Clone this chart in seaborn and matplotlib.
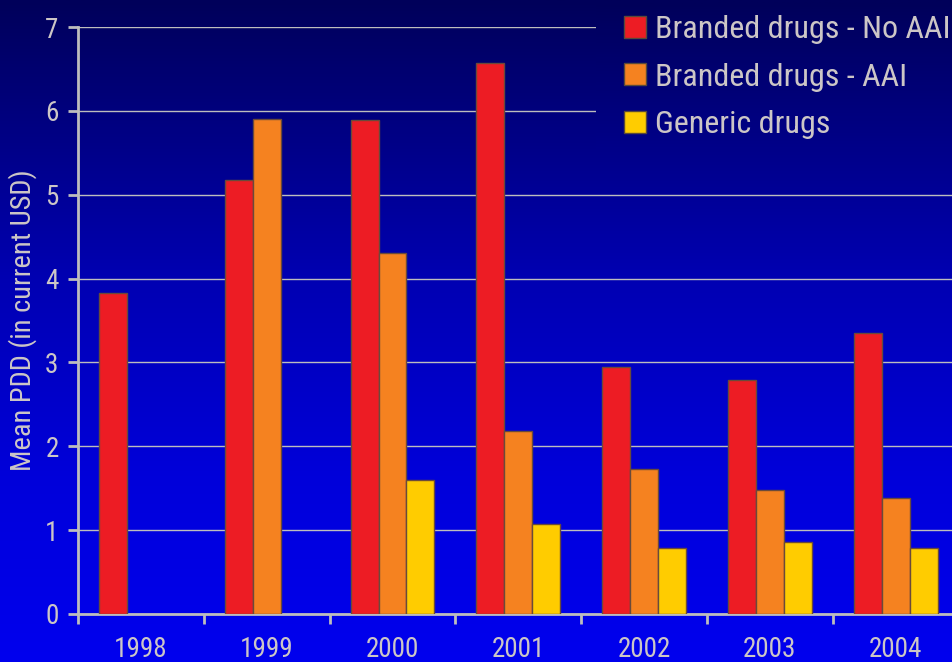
import numpy as np
import pandas as pd
import matplotlib
matplotlib.use("Agg")
import matplotlib.pyplot as plt
from matplotlib import font_manager
from matplotlib.colors import LinearSegmentedColormap
from matplotlib.patches import Patch
import seaborn as sns

# ------------------------------
# DATA
# ------------------------------
years = ["1998", "1999", "2000", "2001", "2002", "2003", "2004"]
branded_no_aai = [3.83, 5.18, 5.89, 6.57, 2.95, 2.79, 3.35]
branded_aai = [np.nan, 5.90, 4.30, 2.18, 1.73, 1.48, 1.38]
generic = [np.nan, np.nan, 1.60, 1.07, 0.79, 0.86, 0.79]
series_names = ["Branded drugs - No AAI", "Branded drugs - AAI", "Generic drugs"]
y_ticks = [0, 1, 2, 3, 4, 5, 6, 7]

# ------------------------------
# STYLE
# ------------------------------
sns.set_style("white")

# narrow font if there is one, otherwise plain Liberation Sans a bit smaller
installed = {f.name for f in font_manager.fontManager.ttflist}
narrow = [n for n in ["Liberation Sans Narrow", "Arial Narrow", "Roboto Condensed"] if n in installed]
if narrow:
    plt.rcParams['font.family'] = [narrow[0], 'Liberation Sans', 'DejaVu Sans']
    scale = 1.0
else:
    plt.rcParams['font.family'] = ['Liberation Sans', 'DejaVu Sans']
    scale = 0.84

TEXT = "#CCC6C6"
GRID = "#BDBDBD"
colors = ["#ED1C24", "#F58220", "#FFCC00"]

df = pd.DataFrame({
    "year": years * 3,
    "value": branded_no_aai + branded_aai + generic,
    "series": [s for s in series_names for _ in years],
}).dropna()

fig = plt.figure(figsize=(9.52, 6.62), dpi=100)

# gradient background
bg_cmap = LinearSegmentedColormap.from_list(
    "bg", [(0.0, "#00005A"), (0.42, "#0000B2"), (0.72, "#0000DA"), (1.0, "#0000EE")])
bg = fig.add_axes([0, 0, 1, 1], zorder=-1)
bg.imshow(np.linspace(0, 1, 256).reshape(-1, 1), aspect="auto", cmap=bg_cmap,
          vmin=0, vmax=1, extent=[0, 1, 0, 1], origin="upper")
bg.axis("off")

ax = fig.add_axes([78 / 952, 48 / 662, 880.6 / 952, 587 / 662])
ax.set_facecolor("none")

sns.barplot(data=df, x="year", y="value", hue="series", order=years,
            hue_order=series_names, palette=colors, saturation=1, width=0.667, gap=0,
            edgecolor="#6A4A3A", linewidth=1, legend=False, ax=ax, zorder=3)

ax.set_ylim(0, 7)
ax.set_xlim(-0.5, 6.5)
ax.set_yticks(y_ticks)
ax.yaxis.grid(True, color=GRID, linewidth=1, zorder=0)
ax.set_axisbelow(True)

# ticks at the category boundaries, labels in the middle
ax.set_xticks(np.arange(-0.5, 7, 1))
ax.set_xticklabels([])
ax.set_xticks(range(len(years)), minor=True)
ax.set_xticklabels(years, minor=True)
ax.tick_params(axis="x", which="major", direction="out", length=7, width=2, color=GRID, bottom=True)
ax.tick_params(axis="x", which="minor", length=0, pad=16, labelsize=19.5 * scale, labelcolor=TEXT)
ax.tick_params(axis="y", direction="out", length=7, width=2, color=GRID, pad=7,
               labelsize=19.5 * scale, labelcolor=TEXT, left=True)

for side in ["top", "right"]:
    ax.spines[side].set_visible(False)
for side in ["left", "bottom"]:
    ax.spines[side].set_color(GRID)
    ax.spines[side].set_linewidth(2)

ax.set_xlabel("")
ax.set_ylabel("Mean PDD (in current USD)", fontsize=20.5 * scale, color=TEXT, labelpad=6)

# legend box hides the gridlines behind it (same gradient as the background)
cover_h = 150 / 662
cover = fig.add_axes([596 / 952, 1 - cover_h, 1 - 596 / 952, cover_h], zorder=1)
cover.imshow(np.linspace(0, cover_h, 64).reshape(-1, 1), aspect="auto", cmap=bg_cmap,
             vmin=0, vmax=1, extent=[0, 1, 0, 1], origin="upper")
cover.axis("off")

handles = [Patch(facecolor=c, edgecolor="#5A4A3A", linewidth=1, label=n)
           for c, n in zip(colors, series_names)]
leg_size = 23 * scale
fig.legend(handles=handles, loc="upper left", bbox_to_anchor=(624 / 952, 1 - 15 / 662),
           frameon=False, fontsize=leg_size, labelcolor=TEXT, handlelength=22 / (leg_size * 1.39),
           handleheight=22 / (leg_size * 1.39), handletextpad=0.28, labelspacing=0.58,
           borderpad=0, borderaxespad=0)

plt.savefig("out.png", dpi=100)
plt.close()
